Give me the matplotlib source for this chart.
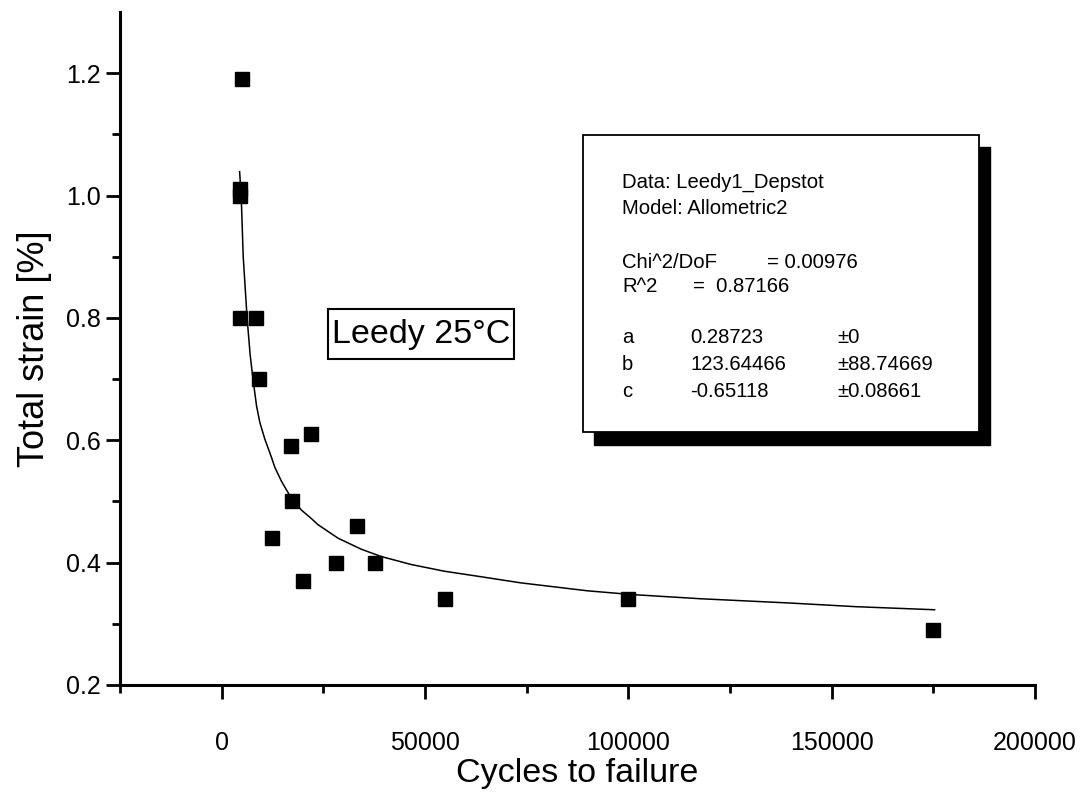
import matplotlib
matplotlib.use("Agg")
import matplotlib.pyplot as plt
from matplotlib.patches import Rectangle

# ---- data ----
cycles = [5100, 4500, 4500, 4500, 8450, 9200, 17000, 21900, 17300, 12300,
          20000, 28200, 33400, 37600, 55000, 100000, 175000]
strain = [1.19, 1.00, 1.01, 0.80, 0.80, 0.70, 0.59, 0.61, 0.50, 0.44,
          0.37, 0.40, 0.46, 0.40, 0.34, 0.34, 0.29]

fit_cycles = [4410, 4800, 5300, 6250, 7000, 7700, 8580, 9390, 10610, 12250,
              13060, 14700, 17160, 19600, 22060, 23700, 28600, 34310, 39220,
              46570, 54730, 63730, 73500, 89900, 100500, 117700, 139700,
              156000, 175300]
fit_strain = [1.039, 1.00, 0.90, 0.80, 0.74, 0.70, 0.656, 0.629, 0.602, 0.572,
              0.556, 0.533, 0.505, 0.486, 0.472, 0.462, 0.440, 0.422, 0.410,
              0.397, 0.386, 0.377, 0.367, 0.354, 0.348, 0.341, 0.334,
              0.328, 0.323]

x_major = [0, 50000, 100000, 150000, 200000]
x_minor = [-25000, 25000, 75000, 125000, 175000]
y_major = [0.2, 0.4, 0.6, 0.8, 1.0, 1.2]
y_minor = [0.3, 0.5, 0.7, 0.9, 1.1]

info_header = ["Data: Leedy1_Depstot", "Model: Allometric2"]
param_names = ["a", "b", "c"]
param_values = ["0.28723", "123.64466", "-0.65118"]
param_errors = ["\u00b10", "\u00b188.74669", "\u00b10.08661"]

plt.rcParams['font.family'] = ['Liberation Sans', 'DejaVu Sans']

W, H = 1085, 792
fig = plt.figure(figsize=(W / 100, H / 100), dpi=100)
ax = fig.add_axes([120 / W, 1 - 685 / H, (1035 - 120) / W, (685 - 12) / H])

ax.plot(fit_cycles, fit_strain, color='black', lw=1.1, zorder=2)
ax.plot(cycles, strain, 's', color='black', markersize=10.5, zorder=3)

ax.set_xlim(-25000, 200000)
ax.set_ylim(0.2, 1.3)
ax.spines['top'].set_visible(False)
ax.spines['right'].set_visible(False)
for s in ['left', 'bottom']:
    ax.spines[s].set_linewidth(2.2)

ax.set_xticks(x_major)
ax.set_xticks(x_minor, minor=True)
ax.set_xticklabels([str(v) for v in x_major])
ax.set_yticks(y_major)
ax.set_yticks(y_minor, minor=True)
ax.set_yticklabels(["%.1f" % v for v in y_major])
ax.tick_params(which='major', direction='out', length=10, width=2, labelsize=18)
ax.tick_params(axis='x', which='major', pad=23)
ax.tick_params(axis='y', which='major', pad=4)
ax.tick_params(which='minor', direction='out', length=6, width=2)

ax.set_xlabel("Cycles to failure", fontsize=24.5, labelpad=2)
ax.set_ylabel("Total strain [%]", fontsize=26, labelpad=10)


def fx(px):
    return px / W


def fy(py):
    return 1 - py / H


# Leedy label box
leedy = Rectangle((fx(328), fy(359)), fx(514) - fx(328), fy(309) - fy(359),
                  transform=fig.transFigure, fc='white', ec='black', lw=1.5, zorder=4)
fig.patches.append(leedy)
fig.text(fx(421), fy(334), "Leedy 25\u00b0C", fontsize=24.5, ha='center', va='center',
         zorder=5)

# stats box with shadow
shadow = Rectangle((fx(594), fy(445)), fx(990) - fx(594), fy(147) - fy(445),
                   transform=fig.transFigure, fc='black', ec='black', zorder=5)
box = Rectangle((fx(583), fy(432)), fx(979) - fx(583), fy(135) - fy(432),
                transform=fig.transFigure, fc='white', ec='black', lw=1.3, zorder=6)
fig.patches.extend([shadow, box])

fs = 14.6
fig.text(fx(622), fy(182), info_header[0], fontsize=fs, va='center', zorder=7)
fig.text(fx(622), fy(208), info_header[1], fontsize=fs, va='center', zorder=7)
fig.text(fx(622), fy(262), "Chi^2/DoF", fontsize=fs, va='center', zorder=7)
fig.text(fx(767), fy(262), "= 0.00976", fontsize=fs, va='center', zorder=7)
fig.text(fx(622), fy(286), "R^2", fontsize=fs, va='center', zorder=7)
fig.text(fx(693), fy(286), "=  0.87166", fontsize=fs, va='center', zorder=7)
for i, (n, v, e) in enumerate(zip(param_names, param_values, param_errors)):
    yy = [338, 365, 391][i]
    fig.text(fx(622), fy(yy), n, fontsize=fs, va='center', zorder=7)
    fig.text(fx(690), fy(yy), v, fontsize=fs, va='center', zorder=7)
    fig.text(fx(837), fy(yy), e, fontsize=fs, va='center', zorder=7)

fig.savefig("out.png", dpi=100)
